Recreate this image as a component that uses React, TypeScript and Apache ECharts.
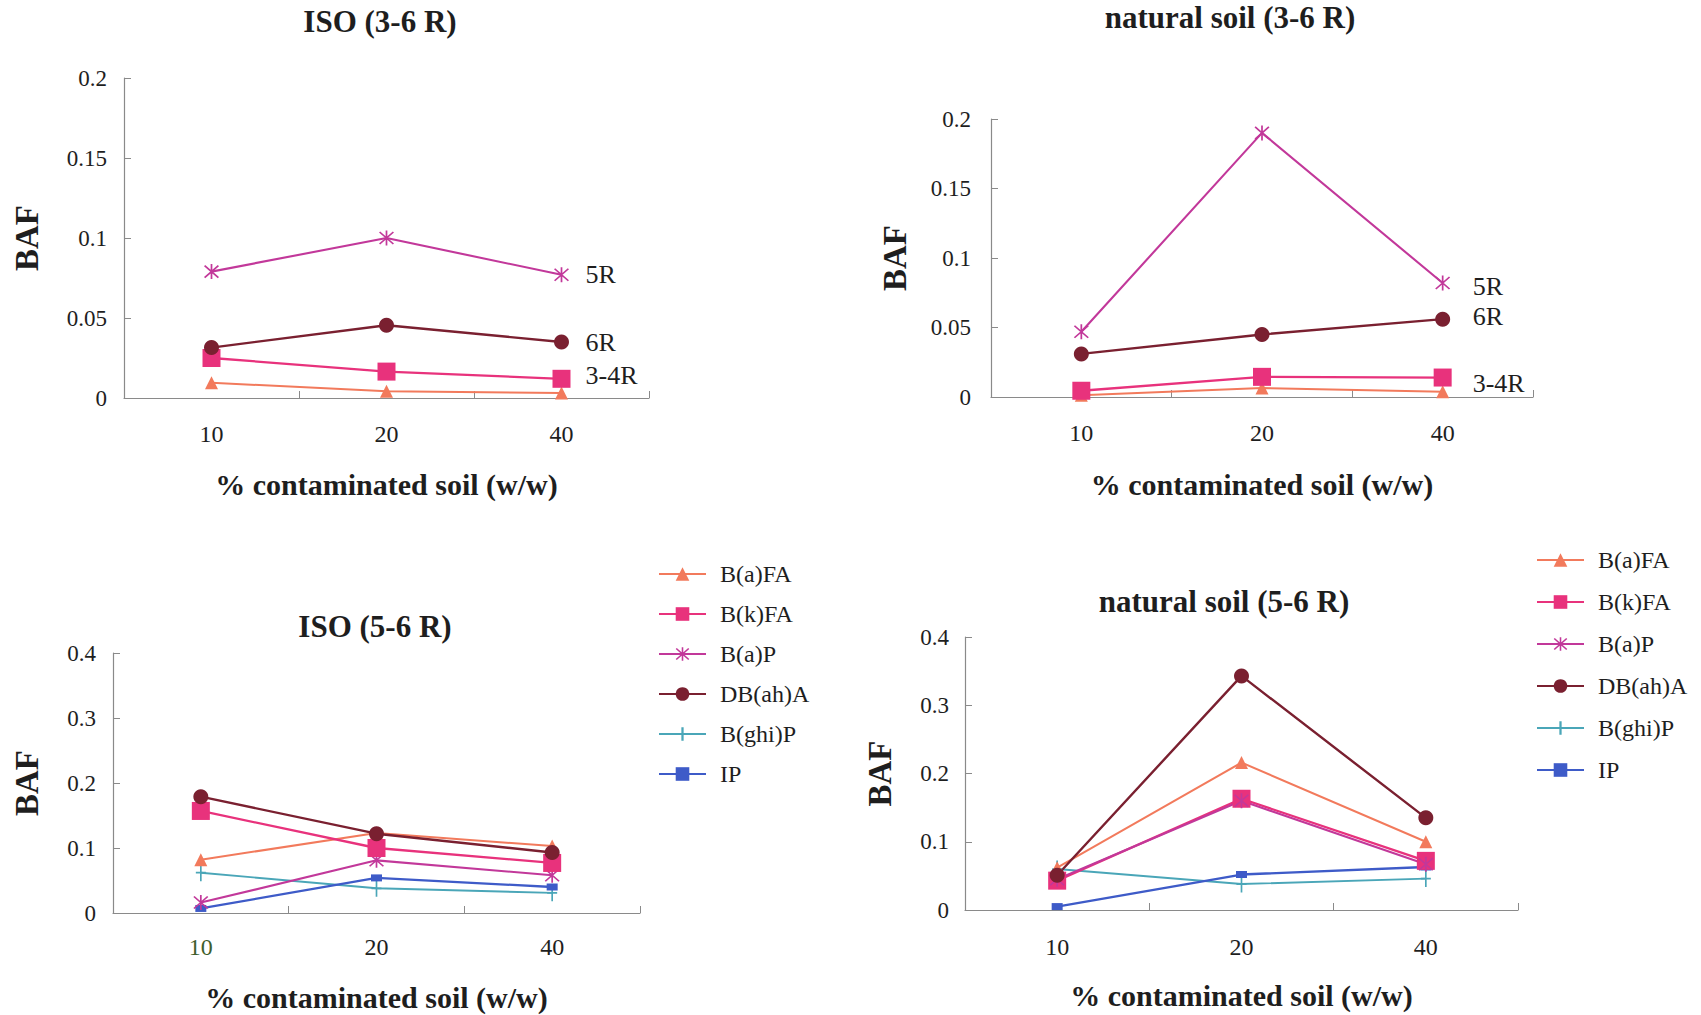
import React, { useEffect, useRef } from "react";
import * as echarts from "echarts";

const categories = ["10", "20", "40"];
const seriesNames = ["B(a)FA", "B(k)FA", "B(a)P", "DB(ah)A", "B(ghi)P", "IP"];

// ISO (3-6 R)
const isoR36_BaFA = [0.0095, 0.0042, 0.0031];
const isoR36_BkFA = [0.025, 0.0165, 0.012];
const isoR36_BaP = [0.079, 0.1, 0.077];
const isoR36_DBahA = [0.0315, 0.0455, 0.035];

// natural soil (3-6 R)
const natR36_BaFA = [0.0012, 0.0065, 0.0038];
const natR36_BkFA = [0.0045, 0.0145, 0.014];
const natR36_BaP = [0.047, 0.19, 0.082];
const natR36_DBahA = [0.031, 0.045, 0.056];

// ISO (5-6 R)
const isoR56_BaFA = [0.082, 0.123, 0.103];
const isoR56_BkFA = [0.157, 0.1, 0.077];
const isoR56_BaP = [0.016, 0.081, 0.058];
const isoR56_DBahA = [0.179, 0.122, 0.093];
const isoR56_BghiP = [0.062, 0.038, 0.031];
const isoR56_IP = [0.007, 0.054, 0.04];

// natural soil (5-6 R)
const natR56_BaFA = [0.062, 0.216, 0.1];
const natR56_BkFA = [0.043, 0.163, 0.072];
const natR56_BaP = [0.045, 0.16, 0.067];
const natR56_DBahA = [0.051, 0.343, 0.135];
const natR56_BghiP = [0.06, 0.038, 0.046];
const natR56_IP = [0.005, 0.052, 0.063];

const ringLabels = { BaP: "5R", DBahA: "6R", BkFA: "3-4R" };

const FONT = '"Liberation Serif", "Times New Roman", serif';
const TXT = "#1e1e1e";

const STAR =
  "path://M9 0 L11 0 L11 20 L9 20 Z M1.3 2.7 L2.7 1.3 L18.7 17.3 L17.3 18.7 Z M17.3 1.3 L18.7 2.7 L2.7 18.7 L1.3 17.3 Z";
const PLUS = "path://M9 0 L11 0 L11 20 L9 20 Z M4 9 L16 9 L16 11 L4 11 Z";

const styles: Record<string, any> = {
  "B(a)FA": { color: "#f27a5c", symbol: "triangle", symbolSize: 13, width: 2 },
  "B(k)FA": { color: "#e8327c", symbol: "rect", symbolSize: 18, width: 2.3 },
  "B(a)P": { color: "#c2389a", symbol: STAR, symbolSize: 15, width: 2.1 },
  "DB(ah)A": { color: "#7a2030", symbol: "circle", symbolSize: 15, width: 2.4 },
  "B(ghi)P": { color: "#4aa6b8", symbol: PLUS, symbolSize: [10, 17], width: 1.9 },
  IP: { color: "#3e5bc8", symbol: "rect", symbolSize: [11, 7], width: 2.3 },
};

function mkSeries(
  name: string,
  data: number[],
  idx: number,
  endText?: string,
  endOffset?: number[],
  endDist?: number
) {
  const s = styles[name];
  const o: any = {
    type: "line",
    name,
    data,
    xAxisIndex: idx,
    yAxisIndex: idx,
    symbol: s.symbol,
    symbolSize: s.symbolSize,
    showAllSymbol: true,
    color: s.color,
    itemStyle: { color: s.color },
    lineStyle: { color: s.color, width: s.width },
    z: 3,
  };
  if (endText) {
    o.endLabel = {
      show: true,
      formatter: endText,
      color: TXT,
      fontFamily: FONT,
      fontSize: 26,
      distance: endDist || 24,
      offset: endOffset || [0, 0],
    };
  }
  return o;
}

const grids = [
  { left: 124, top: 78, width: 525, height: 320 },
  { left: 991, top: 119, width: 542, height: 278 },
  { left: 113, top: 653, width: 527, height: 260 },
  { left: 965, top: 637, width: 553, height: 273 },
];

const yMax = [0.2, 0.2, 0.4, 0.4];
const yInt = [0.05, 0.05, 0.1, 0.1];
const yLabelMargin = [17, 20, 17, 16];
const xLabelMargin = [24, 24, 22, 25];
const xNameGap = [71, 72, 69, 70];
const yNameGap = [81, 80, 70, 69];

const titles = [
  { text: "ISO (3-6 R)", x: 375, y: 16 },
  { text: "natural soil (3-6 R)", x: 1225, y: 12 },
  { text: "ISO (5-6 R)", x: 370, y: 621 },
  { text: "natural soil (5-6 R)", x: 1219, y: 596 },
];

const axisLine = { show: true, lineStyle: { color: "#8a8a8a", width: 1.2 } };

export default function App() {
  const ref = useRef<HTMLDivElement>(null);
  useEffect(() => {
    if (!ref.current) return;
    const chart = echarts.init(ref.current, undefined, { renderer: "svg" });

    const xAxis = grids.map((_, i) => ({
      type: "category",
      gridIndex: i,
      data: categories,
      boundaryGap: true,
      axisLine,
      axisTick: { show: true, inside: true, length: 7, lineStyle: { color: "#8a8a8a" } },
      axisLabel: {
        fontFamily: FONT,
        fontSize: 24,
        margin: xLabelMargin[i],
        color: (v: string) => (i === 2 && v === "10" ? "#3e5e2c" : TXT),
      },
      name: "% contaminated soil (w/w)",
      nameLocation: "middle",
      nameGap: xNameGap[i],
      nameTextStyle: { fontFamily: FONT, fontSize: 30, fontWeight: "bold", color: TXT },
      splitLine: { show: false },
    }));

    const yAxis = grids.map((_, i) => ({
      type: "value",
      gridIndex: i,
      min: 0,
      max: yMax[i],
      interval: yInt[i],
      axisLine,
      axisTick: { show: true, inside: true, length: 7, lineStyle: { color: "#8a8a8a" } },
      axisLabel: { fontFamily: FONT, fontSize: 23, margin: yLabelMargin[i], color: TXT },
      splitLine: { show: false },
      name: "BAF",
      nameLocation: "middle",
      nameRotate: 90,
      nameGap: yNameGap[i],
      nameTextStyle: { fontFamily: FONT, fontSize: 33, fontWeight: "bold", color: TXT },
    }));

    const series = [
      mkSeries("B(a)FA", isoR36_BaFA, 0),
      mkSeries("B(k)FA", isoR36_BkFA, 0, ringLabels.BkFA, [0, -3]),
      mkSeries("B(a)P", isoR36_BaP, 0, ringLabels.BaP),
      mkSeries("DB(ah)A", isoR36_DBahA, 0, ringLabels.DBahA),

      mkSeries("B(a)FA", natR36_BaFA, 1),
      mkSeries("B(k)FA", natR36_BkFA, 1, ringLabels.BkFA, [0, 6], 30),
      mkSeries("B(a)P", natR36_BaP, 1, ringLabels.BaP, [0, 3], 30),
      mkSeries("DB(ah)A", natR36_DBahA, 1, ringLabels.DBahA, [0, -3], 30),

      mkSeries("B(ghi)P", isoR56_BghiP, 2),
      mkSeries("IP", isoR56_IP, 2),
      mkSeries("B(a)FA", isoR56_BaFA, 2),
      mkSeries("B(a)P", isoR56_BaP, 2),
      mkSeries("B(k)FA", isoR56_BkFA, 2),
      mkSeries("DB(ah)A", isoR56_DBahA, 2),

      mkSeries("B(ghi)P", natR56_BghiP, 3),
      mkSeries("IP", natR56_IP, 3),
      mkSeries("B(a)FA", natR56_BaFA, 3),
      mkSeries("B(k)FA", natR56_BkFA, 3),
      mkSeries("B(a)P", natR56_BaP, 3),
      mkSeries("DB(ah)A", natR56_DBahA, 3),
    ];

    const legendBase = {
      orient: "vertical",
      data: seriesNames,
      itemWidth: 47,
      itemHeight: 17,
      selectedMode: false,
      textStyle: { fontFamily: FONT, fontSize: 24, color: TXT, lineHeight: 22, padding: [0, 0, 0, 9] },
    };

    chart.setOption({
      animation: false,
      backgroundColor: "#ffffff",
      title: titles.map((t) => ({
        text: t.text,
        left: t.x,
        top: t.y,
        textAlign: "center",
        textVerticalAlign: "middle",
        textStyle: { fontFamily: FONT, fontSize: 31, fontWeight: "bold", color: TXT },
      })),
      grid: grids,
      xAxis,
      yAxis,
      legend: [
        { ...legendBase, left: 653, top: 557, itemGap: 16 },
        { ...legendBase, left: 1531, top: 543, itemGap: 18 },
      ],
      series,
    });
    return () => chart.dispose();
  }, []);
  return (
    <div
      ref={ref}
      style={{ position: "absolute", left: 0, top: 0, width: 1701, height: 1015, background: "#fff" }}
    />
  );
}
